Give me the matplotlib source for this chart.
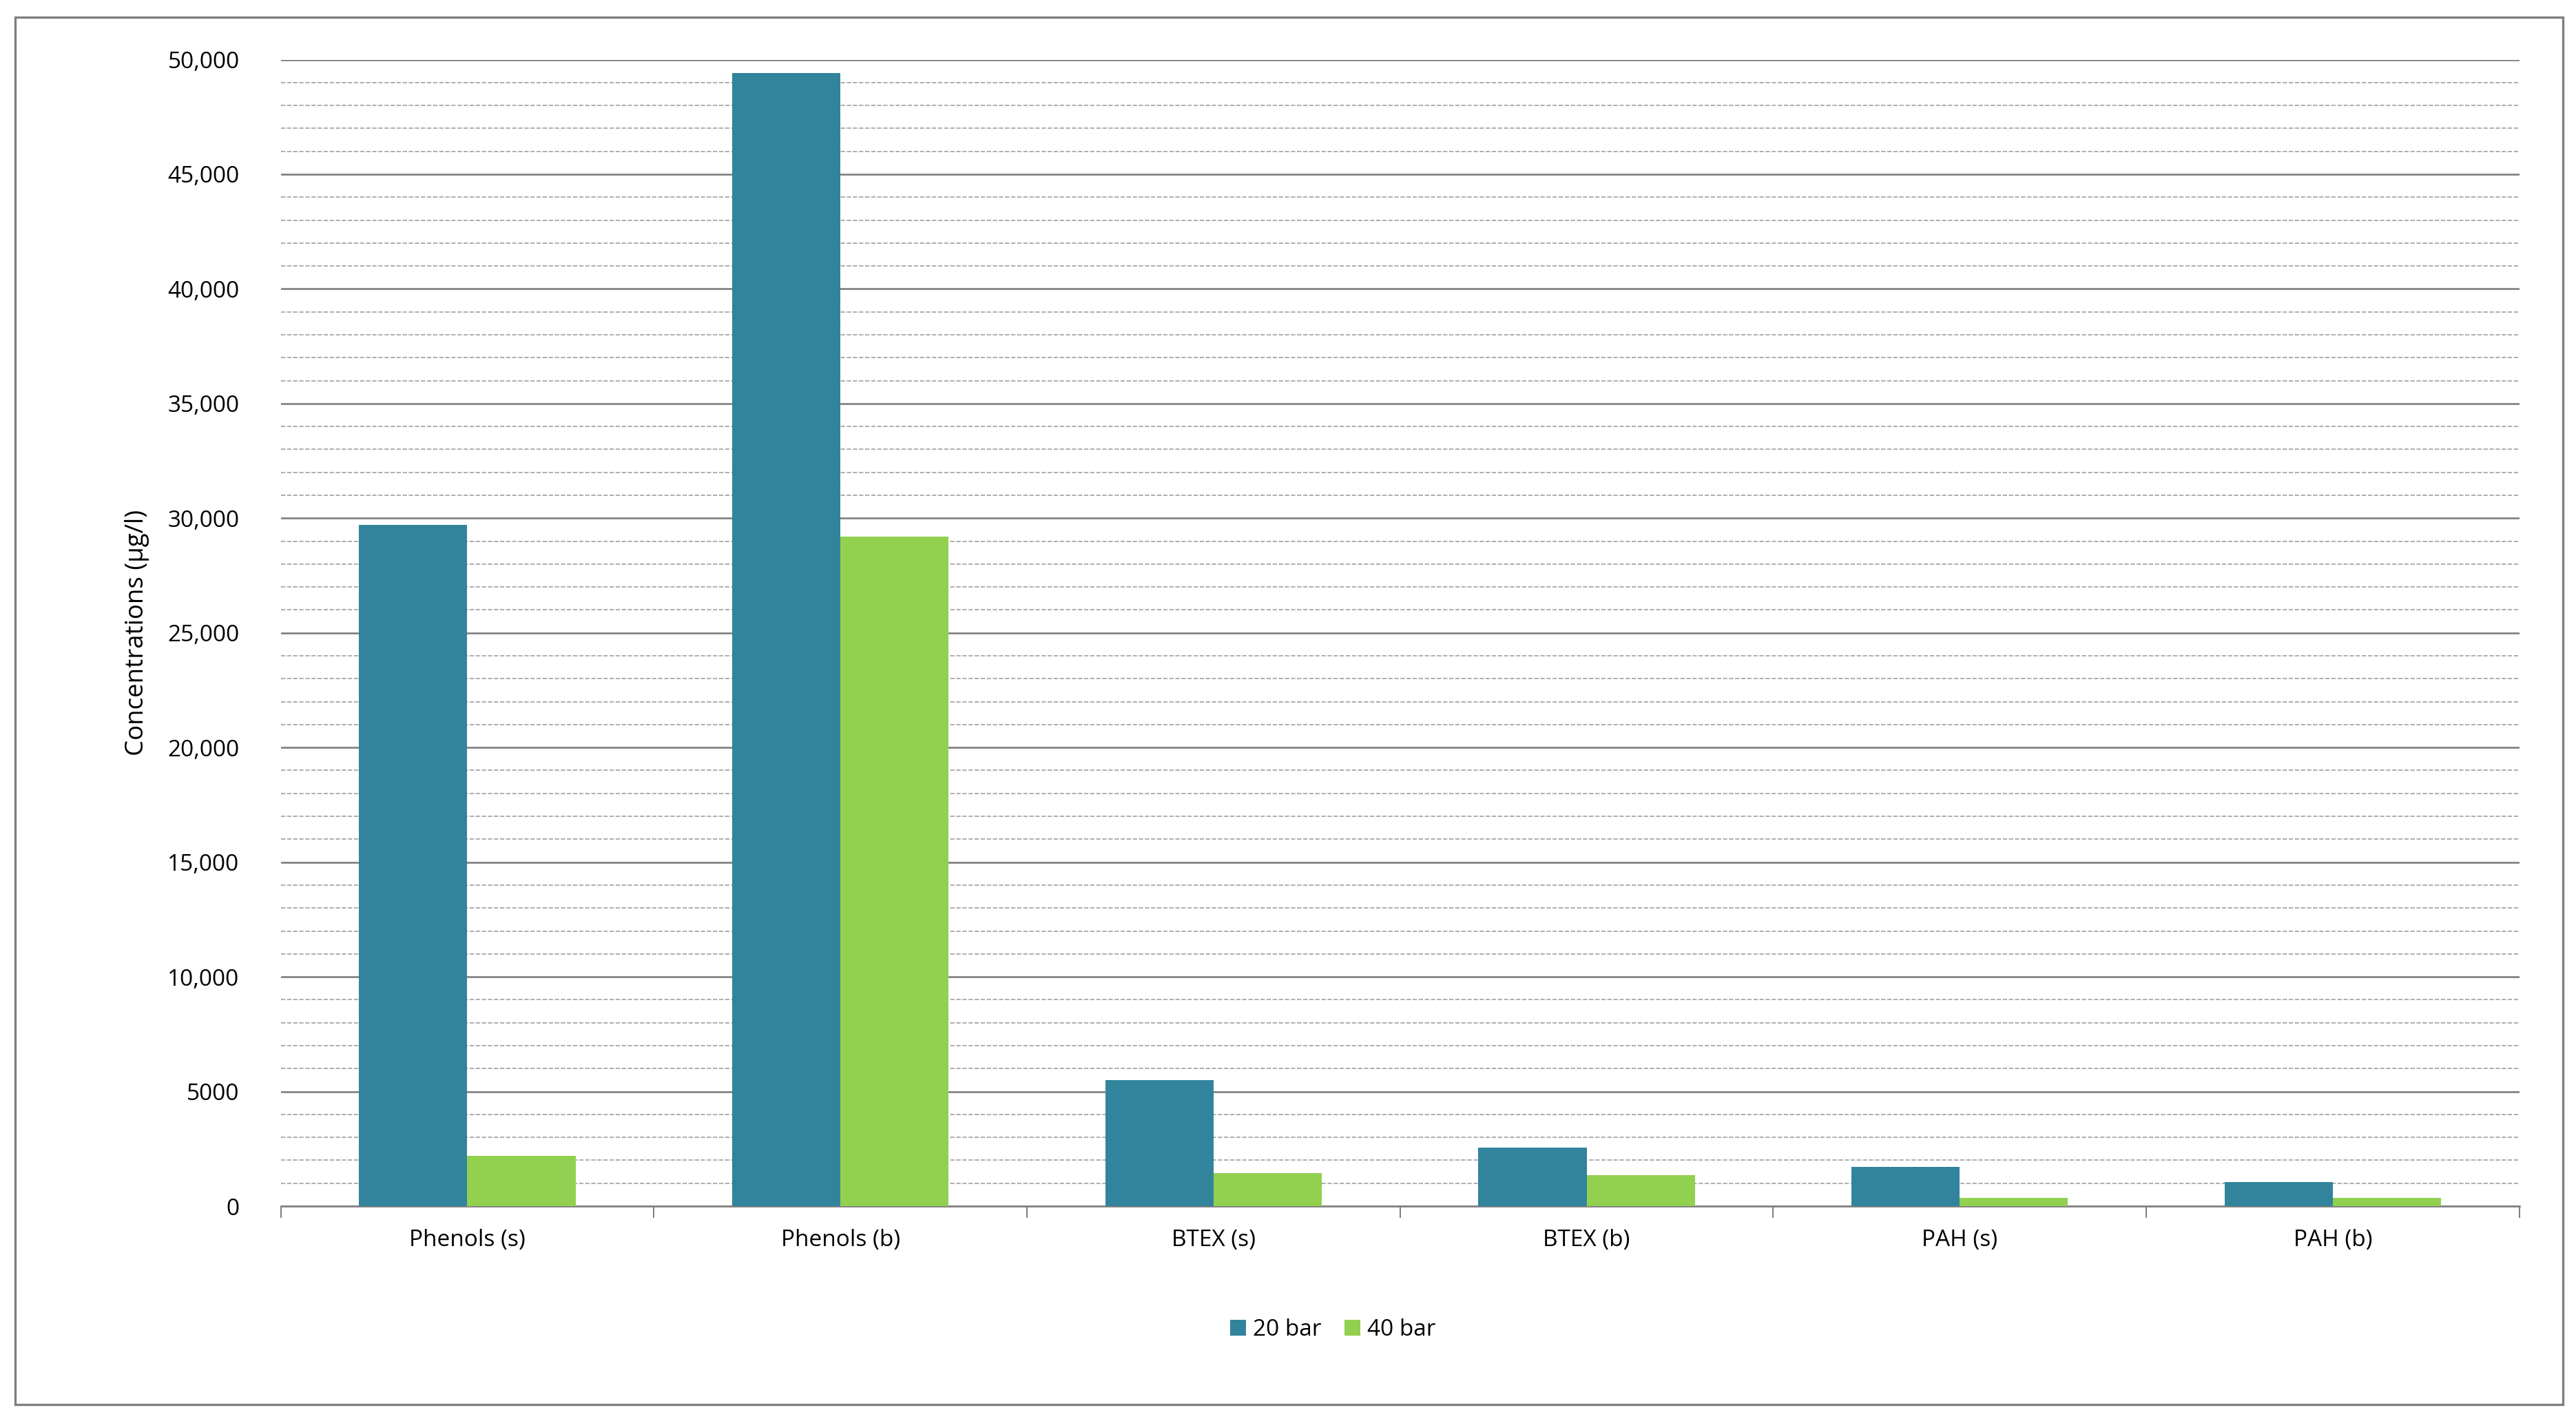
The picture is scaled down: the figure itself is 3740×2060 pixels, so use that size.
import matplotlib.pyplot as plt
from matplotlib.patches import Rectangle
import numpy as np

categories = ["Phenols (s)", "Phenols (b)", "BTEX (s)", "BTEX (b)", "PAH (s)", "PAH (b)"]
bar20 = [29700, 49400, 5500, 2550, 1700, 1050]
bar40 = [2200, 29200, 1450, 1350, 350, 350]
yticks = [0, 5000, 10000, 15000, 20000, 25000, 30000, 35000, 40000, 45000, 50000]
ylabels = ["0", "5000", "10,000", "15,000", "20,000", "25,000", "30,000",
           "35,000", "40,000", "45,000", "50,000"]

plt.rcParams['font.family'] = ['Open Sans', 'DejaVu Sans']
fig = plt.figure(figsize=(3740 / 240, 2060 / 240), dpi=240)
fig.patches.append(Rectangle((0.006, 0.01), 0.989, 0.978, transform=fig.transFigure,
                             fill=False, edgecolor="#7f7f7f", linewidth=1.0))

ax = fig.add_axes([0.109, 0.150, 0.869, 0.808])
x = np.arange(len(categories))
w = 0.29
ax.bar(x - w / 2, bar20, w, color="#31849B", label="20 bar", zorder=3)
ax.bar(x + w / 2, bar40, w, color="#92D050", label="40 bar", zorder=3)

ax.set_xlim(-0.5, len(categories) - 0.5)
ax.set_ylim(0, 50000)
ax.set_yticks(yticks)
ax.set_yticklabels(ylabels, fontsize=10)
ax.set_yticks(np.arange(0, 50001, 1000), minor=True)
ax.grid(axis="y", which="major", color="#7f7f7f", linewidth=0.8, zorder=0)
ax.grid(axis="y", which="minor", color="#a0a0a0", linewidth=0.5, linestyle="--", zorder=0)
ax.tick_params(axis="y", which="both", length=0, pad=18)

ax.set_xticks(x)
ax.set_xticklabels(categories, fontsize=10)
ax.set_xticks(np.arange(-0.5, len(categories), 1), minor=True)
ax.tick_params(axis="x", which="major", length=0, pad=10)
ax.tick_params(axis="x", which="minor", length=5, color="#7f7f7f")

for s in ["top", "right", "left"]:
    ax.spines[s].set_visible(False)
ax.spines["bottom"].set_color("#7f7f7f")

ax.set_ylabel("Concentrations (µg/l)", fontsize=11, labelpad=8)

ax.legend(loc="upper center", bbox_to_anchor=(0.47, -0.08), ncol=2, frameon=False,
          fontsize=10, handlelength=0.7, handleheight=0.7, columnspacing=1.0,
          handletextpad=0.3)

fig.savefig("out.png", dpi=240)
